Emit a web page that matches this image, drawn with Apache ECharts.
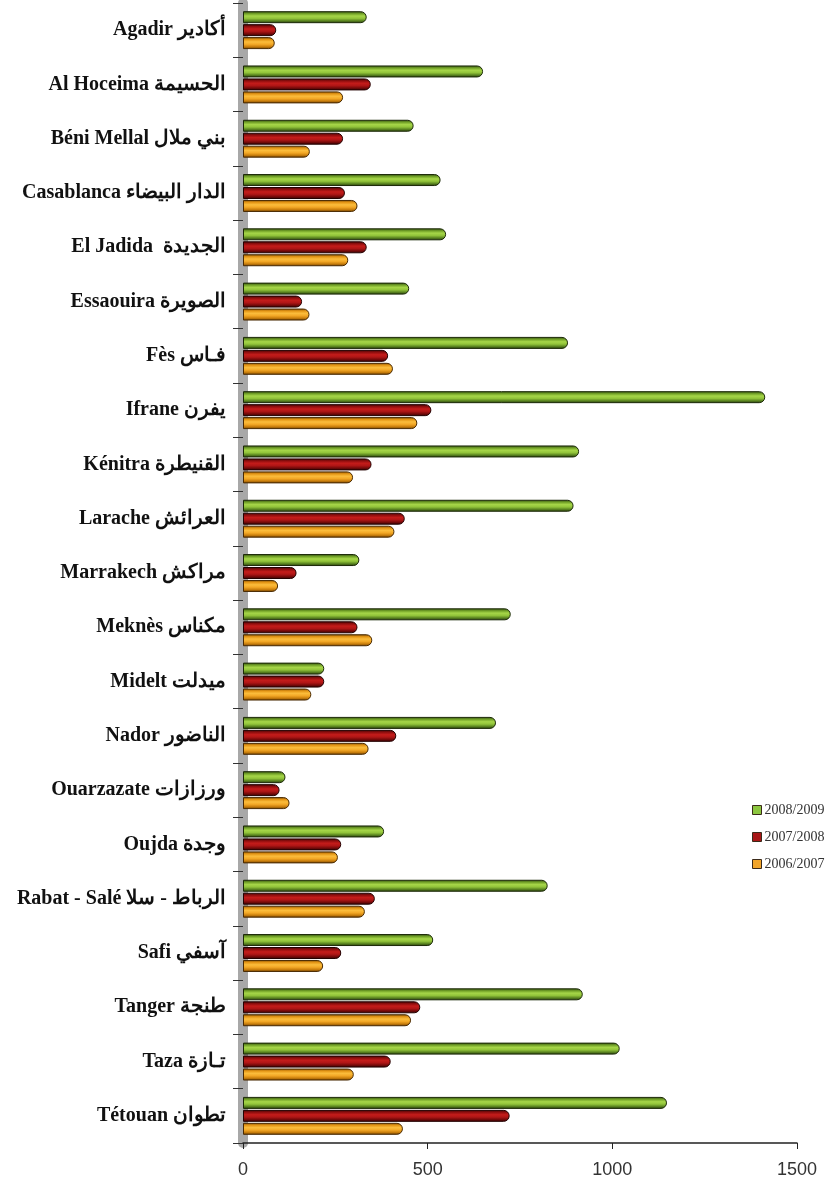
<!DOCTYPE html>
<html>
<head>
<meta charset="utf-8">
<script src="https://cdn.jsdelivr.net/npm/echarts@6/dist/echarts.min.js"></script>
<style>
html,body{margin:0;padding:0;background:#fff;}
#chart{width:829px;height:1187px;}
</style>
</head>
<body>
<div id="chart"></div>
<script>
var categories = ['Agadir أكادير', 'Al Hoceima الحسيمة', 'Béni Mellal بني ملال', 'Casablanca الدار البيضاء', 'El Jadida  الجديدة', 'Essaouira الصويرة', 'Fès فـاس', 'Ifrane يفرن', 'Kénitra القنيطرة', 'Larache العرائش', 'Marrakech مراكش', 'Meknès مكناس', 'Midelt ميدلت', 'Nador الناضور', 'Ouarzazate ورزازات', 'Oujda وجدة', 'Rabat - Salé الرباط - سلا', 'Safi آسفي', 'Tanger طنجة', 'Taza تـازة', 'Tétouan تطوان'];
var seriesNames = ['2008/2009', '2007/2008', '2006/2007'];
var values2008_2009 = [335, 650, 462, 535, 550, 450, 880, 1414, 910, 895, 315, 725, 220, 685, 115, 382, 825, 515, 920, 1020, 1148];
var values2007_2008 = [90, 346, 271, 276, 335, 160, 393, 510, 348, 438, 145, 310, 220, 415, 99, 266, 357, 266, 480, 400, 722];
var values2006_2007 = [86, 271, 181, 310, 285, 180, 406, 472, 298, 410, 95, 350, 185, 340, 126, 257, 330, 217, 455, 300, 433];
var xTicks = [0, 500, 1000, 1500];

function grad(stops) {
  return new echarts.graphic.LinearGradient(0, 0, 0, 1, stops.map(function (c, i) {
    return { offset: i / (stops.length - 1), color: c };
  }));
}
var styles = [
  { fill: grad(['#2e4510', '#6f9e26', '#a6d648', '#92c43a', '#5a8420', '#24380b']), border: '#1c2a08', legend: '#8cc63f' },
  { fill: grad(['#3a0303', '#8e0e0e', '#c41c1a', '#b01616', '#760a0a', '#300202']), border: '#240202', legend: '#a81616' },
  { fill: grad(['#7a4a05', '#e39414', '#fbbd3c', '#f3a826', '#c97e0c', '#6a3e04']), border: '#4a2a02', legend: '#f2a52a' }
];
var dataSets = [values2008_2009, values2007_2008, values2006_2007];

var chart = echarts.init(document.getElementById('chart'));
chart.setOption({
  animation: false,
  backgroundColor: '#ffffff',
  grid: { left: 243, right: 32, top: 3, bottom: 44, containLabel: false },
  legend: {
    orient: 'vertical',
    left: 747,
    top: 797,
    itemWidth: 9,
    itemHeight: 9,
    itemGap: 11,
    icon: 'rect',
    textStyle: { fontFamily: 'Liberation Serif', fontSize: 14, lineHeight: 16, color: '#333', padding: [0, 0, 0, -2] },
    data: seriesNames.map(function (n, i) {
      return { name: n, itemStyle: { color: styles[i].legend, borderColor: '#3a2a1a', borderWidth: 1 } };
    })
  },
  xAxis: {
    type: 'value',
    min: xTicks[0],
    max: xTicks[xTicks.length - 1],
    interval: 500,
    axisLine: { show: true, lineStyle: { color: '#222', width: 1.5 } },
    axisTick: { show: true, length: 6, lineStyle: { color: '#222' } },
    splitLine: { show: false },
    axisLabel: { fontFamily: 'Liberation Sans', fontSize: 18, color: '#333', margin: 18, formatter: function (v) { return String(v); } }
  },
  yAxis: {
    type: 'category',
    inverse: true,
    data: categories,
    axisLine: { show: true, lineStyle: { color: '#a8a8a8', width: 10 } },
    axisTick: { show: true, length: 10, lineStyle: { color: '#333', width: 1 } },
    axisLabel: { fontFamily: 'Liberation Serif', fontWeight: 'bold', fontSize: 20, color: '#111', margin: 17 }
  },
  series: seriesNames.map(function (n, i) {
    return {
      name: n,
      type: 'bar',
      barWidth: 12,
      barGap: '8%',
      data: dataSets[i],
      itemStyle: {
        color: styles[i].fill,
        borderColor: styles[i].border,
        borderWidth: 1,
        borderRadius: [0, 6, 6, 0]
      }
    };
  })
});
</script>
</body>
</html>
